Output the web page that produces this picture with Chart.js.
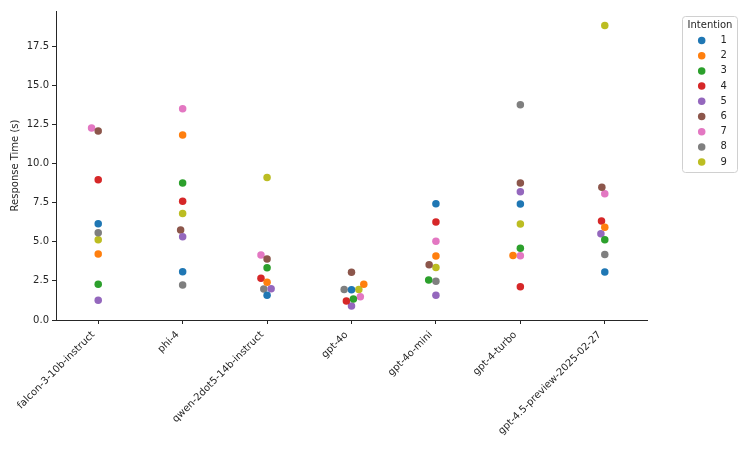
<!DOCTYPE html>
<html><head><meta charset="utf-8">
<script src="https://cdn.jsdelivr.net/npm/chart.js@4.4.1/dist/chart.umd.min.js"></script>
<style>html,body{margin:0;padding:0;background:#fff;overflow:hidden;} #wrap{width:747px;height:449px;}</style>
</head><body><div id="wrap"><canvas id="c" width="747" height="449"></canvas></div>
<script>
const categories = ['falcon-3-10b-instruct','phi-4','qwen-2dot5-14b-instruct','gpt-4o','gpt-4o-mini','gpt-4-turbo','gpt-4.5-preview-2025-02-27'];
const intentions = ['1','2','3','4','5','6','7','8','9'];
const colors = ['#1f77b4','#ff7f0e','#2ca02c','#d62728','#9467bd','#8c564b','#e377c2','#7f7f7f','#bcbd22'];
const intention1 = [6.15, 3.09, 1.58, 1.93, 7.43, 7.41, 3.07];
const intention2 = [4.22, 11.82, 2.41, 2.28, 4.09, 4.12, 5.92];
const intention3 = [2.28, 8.75, 3.34, 1.34, 2.55, 4.58, 5.13];
const intention4 = [8.96, 7.58, 2.66, 1.21, 6.26, 2.13, 6.32];
const intention5 = [1.26, 5.32, 2.00, 0.89, 1.58, 8.20, 5.51];
const intention6 = [12.07, 5.75, 3.90, 3.05, 3.53, 8.75, 8.48];
const intention7 = [12.26, 13.50, 4.15, 1.49, 5.03, 4.10, 8.07];
const intention8 = [5.58, 2.24, 1.98, 1.95, 2.47, 13.75, 4.19];
const intention9 = [5.13, 6.81, 9.11, 1.95, 3.36, 6.13, 18.82];
const seriesValues = [intention1,intention2,intention3,intention4,intention5,intention6,intention7,intention8,intention9];
const yTicks = [0, 2.5, 5, 7.5, 10, 12.5, 15, 17.5];
const yMax = 19.74;

const FONT = "'DejaVu Sans', sans-serif";
const INK = '#262626';
const R = 3.5;

const datasets = seriesValues.map((vals, k) => ({
  label: intentions[k],
  data: vals.map((v, i) => ({x: i, y: v})),
  backgroundColor: colors[k],
  borderColor: colors[k],
  borderWidth: 0,
  pointRadius: 3.75,
  pointHoverRadius: 3.75
}));

const swarmPlugin = {
  id: 'swarm',
  afterDatasetsUpdate(chart) {
    const groups = {};
    chart.data.datasets.forEach((ds, di) => {
      const meta = chart.getDatasetMeta(di);
      meta.data.forEach((el, i) => {
        const c = ds.data[i].x;
        (groups[c] = groups[c] || []).push(el);
      });
    });
    Object.values(groups).forEach(els => {
      const cx = els[0].x;
      els.sort((a, b) => b.y - a.y);
      const placed = [];
      els.forEach(el => {
        const y = el.y;
        const nb = [];
        for (let k = placed.length - 1; k >= 0; k--) {
          if (placed[k].y - y < 2 * R) nb.push(placed[k]); else break;
        }
        const cands = [cx];
        let leftFirst = true;
        nb.forEach(q => {
          const dy = y - q.y;
          const dx = Math.sqrt(Math.max(4 * R * R - dy * dy, 0)) * 1.05;
          if (leftFirst) cands.push(q.x - dx, q.x + dx); else cands.push(q.x + dx, q.x - dx);
          leftFirst = !leftFirst;
        });
        const sorted = cands.map((x, i) => ({x, i})).sort((a, b) => {
          const d = Math.abs(a.x - cx) - Math.abs(b.x - cx);
          return Math.abs(d) > 1e-6 ? d : (a.i - b.i);
        });
        let chosen = cx;
        for (const c of sorted) {
          let ok = true;
          for (const q of nb) {
            const ddx = q.x - c.x, ddy = q.y - y;
            if (ddx * ddx + ddy * ddy < 4 * R * R - 1e-6) { ok = false; break; }
          }
          if (ok) { chosen = c.x; break; }
        }
        el.x = chosen;
        placed.push({x: chosen, y});
      });
    });
  }
};

const legendPlugin = {
  id: 'boxLegend',
  afterDraw(chart) {
    const ctx = chart.ctx;
    const left = chart.chartArea.right + 35.5;
    const top = chart.chartArea.top + 5.5;
    const w = 55, h = 156;
    ctx.save();
    ctx.beginPath();
    if (ctx.roundRect) ctx.roundRect(left, top, w, h, 3); else ctx.rect(left, top, w, h);
    ctx.fillStyle = 'rgba(255,255,255,0.8)';
    ctx.fill();
    ctx.strokeStyle = '#d0d0d0';
    ctx.lineWidth = 1;
    ctx.stroke();
    ctx.font = '10px ' + FONT;
    ctx.fillStyle = INK;
    ctx.textAlign = 'center';
    ctx.textBaseline = 'middle';
    ctx.fillText('Intention', left + w / 2, top + 9);
    chart.data.datasets.forEach((ds, i) => {
      const yy = top + 24 + i * 15.2;
      ctx.beginPath();
      ctx.arc(left + 19.2, yy, 3.75, 0, Math.PI * 2);
      ctx.fillStyle = ds.backgroundColor;
      ctx.fill();
      ctx.fillStyle = INK;
      ctx.textAlign = 'left';
      ctx.fillText(ds.label, left + 38, yy);
    });
    ctx.restore();
  }
};

new Chart(document.getElementById('c'), {
  type: 'scatter',
  data: {datasets},
  plugins: [swarmPlugin, legendPlugin],
  options: {
    responsive: false,
    animation: false,
    events: [],
    devicePixelRatio: 1,
    layout: {padding: {top: 11, right: 100, left: 0, bottom: 0}},
    plugins: {legend: {display: false}, tooltip: {enabled: false}},
    scales: {
      x: {
        type: 'linear',
        min: -0.5, max: categories.length - 0.5,
        afterBuildTicks(scale) { scale.ticks = categories.map((_, i) => ({value: i})); },
        afterFit(scale) { scale.height = 129; },
        ticks: {
          autoSkip: false, maxRotation: 45, minRotation: 45,
          font: {family: FONT, size: 10}, color: INK, padding: 5, labelOffset: -5,
          callback: (v) => categories[v] !== undefined ? categories[v] : ''
        },
        grid: {display: true, drawOnChartArea: false, drawTicks: true, tickLength: 4, color: INK, lineWidth: 1},
        border: {display: true, color: INK, width: 1}
      },
      y: {
        type: 'linear',
        min: 0, max: yMax,
        afterBuildTicks(scale) { scale.ticks = yTicks.map(v => ({value: v})); },
        afterFit(scale) { scale.width = 56; },
        ticks: {
          font: {family: FONT, size: 10}, color: INK, padding: 3,
          callback: (v) => Number(v).toFixed(1)
        },
        title: {display: true, text: 'Response Time (s)', font: {family: FONT, size: 10}, color: INK, padding: {top: 9, bottom: 0}},
        grid: {display: true, drawOnChartArea: false, drawTicks: true, tickLength: 4, color: INK, lineWidth: 1},
        border: {display: true, color: INK, width: 1}
      }
    }
  }
});
</script></body></html>
